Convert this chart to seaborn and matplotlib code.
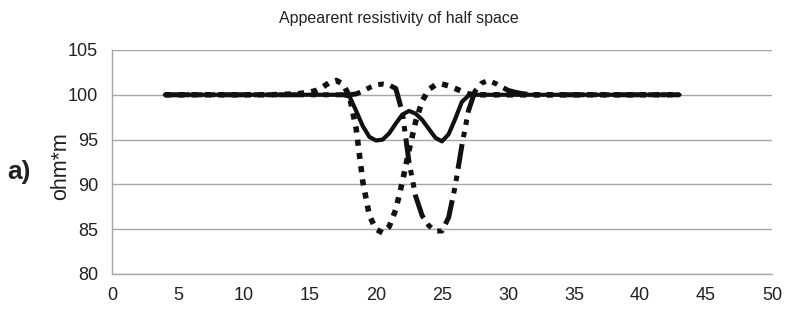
import matplotlib
matplotlib.use("Agg")
import matplotlib.pyplot as plt
import seaborn as sns

x = [4, 6, 8, 10, 12,
     14, 14.5, 15, 15.5, 16, 16.5, 17, 17.5,
     18, 18.5, 19, 19.5, 20, 20.5, 21, 21.5, 22, 22.5,
     23, 23.5, 24, 24.5, 25, 25.5, 26, 26.5, 27, 27.5,
     28, 28.5, 29, 29.5, 30, 30.5, 31, 31.5, 32,
     34, 36, 38, 40, 42, 43]

solid = [100, 100, 100, 100, 100,
         100, 100, 100, 100, 100, 100, 100, 100,
         99.8, 98.2, 96.5, 95.3, 94.9, 95.0, 95.7, 96.8, 97.8, 98.2,
         97.9, 97.2, 96.2, 95.2, 94.8, 95.6, 97.3, 99.2, 99.9, 100,
         100, 100, 100, 100, 100, 100, 100, 100, 100,
         100, 100, 100, 100, 100, 100]

dotted = [100, 100, 100, 100, 100,
          100.1, 100.2, 100.3, 100.5, 100.9, 101.4, 101.6, 101.2,
          99.8, 96.2, 90.3, 86.5, 85.0, 84.6, 85.3, 87.2, 90.3, 93.8,
          97.0, 99.3, 100.6, 101.1, 101.2, 101.0, 100.7, 100.4, 100.1, 100.0,
          100, 100, 100, 100, 100, 100, 100, 100, 100,
          100, 100, 100, 100, 100, 100]

dashdot = [100, 100, 100, 100, 100,
           100, 100, 100, 100, 100, 100, 100, 100,
           100.0, 100.1, 100.4, 100.8, 101.1, 101.2, 101.1, 100.7, 98.0, 92.5,
           88.7, 86.5, 85.4, 84.8, 84.8, 86.3, 89.8, 94.3, 98.2, 100.4,
           101.3, 101.6, 101.3, 100.9, 100.5, 100.3, 100.15, 100.05, 100,
           100, 100, 100, 100, 100, 100]

x_ticks = [0, 5, 10, 15, 20, 25, 30, 35, 40, 45, 50]
y_ticks = [80, 85, 90, 95, 100, 105]

sns.set_style("white")
plt.rcParams['font.family'] = ['Liberation Sans', 'DejaVu Sans']

fig = plt.figure(figsize=(7.98, 3.10), dpi=100)
ax = fig.add_axes([112/798, 1-274/310, (772-112)/798, (274-50)/310])

grid_c = '#a6a6a6'
for yv in y_ticks:
    ax.axhline(yv, color=grid_c, lw=1.0, zorder=0)

sns.lineplot(x=x, y=dotted, ax=ax, color='#111111', lw=4.0,
             linestyle=(0, (1.1, 1.3)), dash_capstyle='butt', zorder=3)
sns.lineplot(x=x, y=dashdot, ax=ax, color='#111111', lw=3.6,
             linestyle=(0, (5, 1.4, 1.1, 1.4, 1.1, 1.4)), dash_capstyle='butt', zorder=3)
sns.lineplot(x=x, y=solid, ax=ax, color='#111111', lw=3.0, zorder=4)

ax.set_xlim(0, 50)
ax.set_ylim(80, 105)
ax.set_xticks(x_ticks)
ax.set_yticks(y_ticks)
ax.set_xticklabels([str(v) for v in x_ticks], fontsize=13, color='#222222')
ax.set_yticklabels([str(v) for v in y_ticks], fontsize=13, color='#222222')
ax.tick_params(axis='x', length=0, pad=9)
ax.tick_params(axis='y', length=4, width=1, color=grid_c, pad=6)

for s in ['top', 'right']:
    ax.spines[s].set_visible(False)
for s in ['left', 'bottom']:
    ax.spines[s].set_color(grid_c)
    ax.spines[s].set_linewidth(1.0)

ax.set_ylabel('ohm*m', fontsize=15.5, color='#222222')
ax.yaxis.set_label_coords(-0.062, 0.48)

fig.text(0.5, 1-18/310, 'Appearent resistivity of half space', ha='center', va='center',
         fontsize=11.5, color='#222222')
fig.text(7/798, 1-172/310, 'a)', ha='left', va='center', fontsize=19,
         fontweight='bold', color='#222222')

fig.savefig('out.png', dpi=100)
